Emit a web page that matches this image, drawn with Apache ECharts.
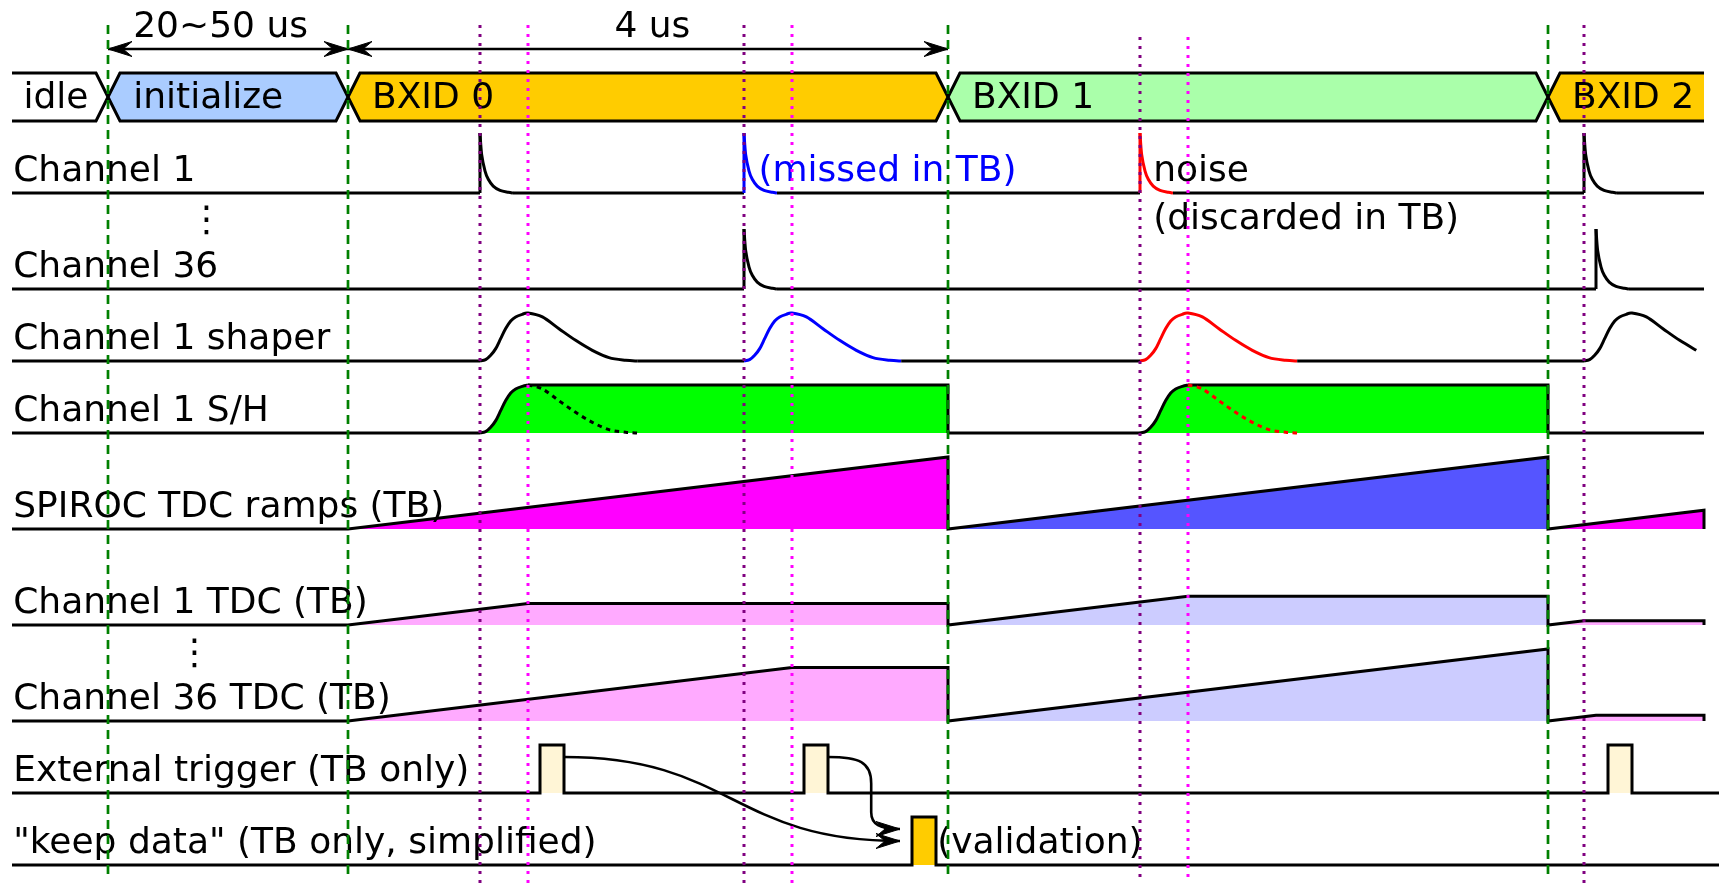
<!DOCTYPE html>
<html>
<head>
<meta charset="utf-8">
<script src="https://cdn.jsdelivr.net/npm/echarts@6/dist/echarts.min.js"></script>
<style>
  html, body { margin: 0; padding: 0; background: #ffffff; }
  #chart { width: 1719px; height: 889px; }
</style>
</head>
<body>
<div id="chart"></div>
<script>
// ---------------------------------------------------------------------------
// Timing data. Time is in diagram units: one BXID = 50 units (4 us).
// Amplitudes are in the same grid units as the vertical axis.
// ---------------------------------------------------------------------------
const busLabels = ['idle', 'initialize', 'BXID 0', 'BXID 1', 'BXID 2'];
const busEdges = [-28, -20, 0, 50, 100, 113];          // start, transitions, end

const ch1Hits = [11, 33, 66, 103];
const ch1HitKinds = ['kept', 'missed', 'noise', 'kept'];
const ch36Hits = [33, 104];
const ch36HitKinds = ['kept', 'kept'];

// detector pulse: [time after hit, amplitude]
const spikeProfile = [[0, 5], [0.14, 3.2], [0.42, 1.83], [0.69, 1.14], [1.1, 0.58],
                      [1.67, 0.22], [2.36, 0.06], [2.75, 0]];
// shaper output: [time after hit, amplitude]
const shaperProfile = [[0, 0], [0.47, 0.11], [0.89, 0.47], [1.31, 1.03], [1.72, 1.86],
                       [2.14, 2.7], [2.56, 3.33], [2.97, 3.67], [3.53, 3.89], [4.0, 4],
                       [5.2, 3.67], [6.58, 2.69], [7.97, 1.72], [9.36, 0.89], [10.75, 0.28],
                       [12.14, 0.06], [13.1, 0]];
const shaperPulses = [11, 33, 66, 103];
const shaperKinds = ['kept', 'missed', 'noise', 'kept'];

// sample & hold: [hit time, release time]
const holdWindows = [[11, 50], [66, 100]];
const holdKinds = ['kept', 'noise'];

// SPIROC TDC ramps: [start, end, level reached at end]
const rampSegments = [[0, 50, 6.0], [50, 100, 6.0], [100, 113, 1.56]];
// per-channel TDC: [stop time, level held]
const tdc1Stops = [[15, 1.8], [70, 2.4], [103, 0.36]];
const tdc36Stops = [[37, 4.45], [100, 6.0], [104, 0.48]];

// external trigger and "keep data" pulses: [rise, fall]
const triggerPulses = [[16, 18], [38, 40], [105, 107]];
const keepPulses = [[47, 49]];
const triggerLinks = [[0, 0], [1, 0]];               // trigger index -> keep pulse index

const bxBoundaries = [-20, 0, 50, 100];
const hitMarkers = [11, 33, 66, 103];
const peakMarkers = [15, 37, 70];

const spanLabels = ['20~50 us', '4 us'];
const rowLabels = ['Channel 1', 'Channel 36', 'Channel 1 shaper', 'Channel 1 S/H',
                   'SPIROC TDC ramps (TB)', 'Channel 1 TDC (TB)', 'Channel 36 TDC (TB)',
                   'External trigger (TB only)', '"keep data" (TB only, simplified)'];
const noteLabels = ['(missed in TB)', 'noise', '(discarded in TB)', '(validation)'];

// ---------------------------------------------------------------------------
// Layout and style
// ---------------------------------------------------------------------------
const ROW = { busTop: 6, busBot: 10, ch1: 16, ch36: 24, shaper: 30, sh: 36, ramp: 44,
              tdc1: 52, tdc36: 60, trig: 66, keep: 72 };
const rowOrder = ['ch1', 'ch36', 'shaper', 'sh', 'ramp', 'tdc1', 'tdc36', 'trig', 'keep'];
const LEFT = -28, ROW_END = 113, RIGHT = 114.25, SLANT = 1, PULSE_H = 4, SHAPER_CUT = 112.4;
const LABEL_X = -27.9;
const busLabelX = [-27.05, -17.9, 2.0, 52.0, 102.0];
const noteAnchors = [[34.2, 15], [67.1, 15], [67.1, 19], [49.1, 71]];
const noteColors = ['#0000ff', '#000000', '#000000', '#000000'];
const spanAnchors = [[-17.9, 3], [22.2, 3]];
const ellipsisAnchors = [[-11.8, 18.4], [-12.8, 54.5]];

const BLACK = '#000000';
const LW = 3;
const FONT = '36px "DejaVu Sans"';
const MID = 9.5;                                      // px from baseline to text middle
const kindColor = { kept: '#000000', missed: '#0000ff', noise: '#ff0000' };
const busFill = [null, '#aaccff', '#ffcc00', '#aaffaa', '#ffcc00'];
const rampFill = ['#ff00ff', '#5555ff'];
const tdcFill = ['#ffaaff', '#ccccff'];

// ---------------------------------------------------------------------------
// Element helpers (all positions go through the cartesian axes via api.coord)
// ---------------------------------------------------------------------------
function polyEl(api, pts, stroke, extra) {
  return { type: 'polyline', shape: { points: pts.map(p => api.coord(p)) },
           style: Object.assign({ stroke: stroke, lineWidth: LW, fill: null, lineJoin: 'miter' }, extra || {}) };
}
function polygonEl(api, pts, fill) {
  return { type: 'polygon', shape: { points: pts.map(p => api.coord(p)) },
           style: { fill: fill, stroke: null } };
}
function curveData(px) {
  let d = 'M' + px[0][0] + ',' + px[0][1];
  for (let i = 0; i < px.length - 1; i++) {
    const p0 = px[Math.max(i - 1, 0)], p1 = px[i], p2 = px[i + 1], p3 = px[Math.min(i + 2, px.length - 1)];
    const c1 = [p1[0] + (p2[0] - p0[0]) / 6, p1[1] + (p2[1] - p0[1]) / 6];
    const c2 = [p2[0] - (p3[0] - p1[0]) / 6, p2[1] - (p3[1] - p1[1]) / 6];
    d += ' C' + c1[0] + ',' + c1[1] + ' ' + c2[0] + ',' + c2[1] + ' ' + p2[0] + ',' + p2[1];
  }
  return d;
}
function curveEl(api, pts, stroke, extra) {
  return { type: 'path', shape: { pathData: curveData(pts.map(p => api.coord(p))) },
           style: Object.assign({ stroke: stroke, lineWidth: LW, fill: 'none' }, extra || {}) };
}
function textEl(api, str, t, yBase, color, align) {
  const c = api.coord([t, yBase]);
  return { type: 'text', x: c[0], y: c[1] - MID,
           style: { text: str, fill: color, font: FONT, align: align || 'left', verticalAlign: 'middle' } };
}
function headEl(tip, dir) {
  const L = 24, W = 7.5, N = 9;
  const nx = -dir[1], ny = dir[0];
  const bx = tip[0] - dir[0] * L, by = tip[1] - dir[1] * L;
  return { type: 'polygon',
           shape: { points: [tip, [bx + nx * W, by + ny * W],
                             [tip[0] - dir[0] * (L - N), tip[1] - dir[1] * (L - N)],
                             [bx - nx * W, by - ny * W]] },
           style: { fill: BLACK, stroke: BLACK, lineWidth: 1 } };
}

// bus state shape, returns fill polygon and stroke path
function busShape(i) {
  const a = busEdges[i], b = busEdges[i + 1];
  const T = ROW.busTop, B = ROW.busBot, M = (T + B) / 2;
  const first = i === 0, last = i === busLabels.length - 1;
  if (first) {
    const pts = [[a, T], [b - SLANT, T], [b, M], [b - SLANT, B], [a, B]];
    return { fill: pts, stroke: pts };
  }
  if (last) {
    return { fill: [[a, M], [a + SLANT, T], [b, T], [b, B], [a + SLANT, B]],
             stroke: [[b, T], [a + SLANT, T], [a, M], [a + SLANT, B], [b, B]] };
  }
  const pts = [[a, M], [a + SLANT, T], [b - SLANT, T], [b, M], [b - SLANT, B], [a + SLANT, B]];
  return { fill: pts, stroke: pts.concat([pts[0], pts[1]]) };
}

const shaperPeak = shaperProfile.reduce((m, p, i) => p[1] > shaperProfile[m][1] ? i : m, 0);

// ---------------------------------------------------------------------------
// Layers
// ---------------------------------------------------------------------------
function fillLayer(api) {
  const els = [];
  busLabels.forEach((_, i) => { if (busFill[i]) els.push(polygonEl(api, busShape(i).fill, busFill[i])); });

  // sample & hold plateaus
  holdWindows.forEach(([t0, t1]) => {
    const base = ROW.sh, top = base - shaperProfile[shaperPeak][1];
    const rise = shaperProfile.slice(0, shaperPeak + 1).map(([dt, a]) => api.coord([t0 + dt, base - a]));
    const e1 = api.coord([t1, top]), e2 = api.coord([t1, base]);
    els.push({ type: 'path', shape: { pathData: curveData(rise) + ' L' + e1[0] + ',' + e1[1] + ' L' + e2[0] + ',' + e2[1] + ' Z' },
               style: { fill: '#00ff00', stroke: null } });
  });

  // SPIROC ramps
  rampSegments.forEach(([s, e, h], i) => {
    els.push(polygonEl(api, [[s, ROW.ramp], [e, ROW.ramp - h], [e, ROW.ramp]], rampFill[i % 2]));
  });

  // channel TDCs
  [[tdc1Stops, ROW.tdc1], [tdc36Stops, ROW.tdc36]].forEach(([stops, base]) => {
    stops.forEach(([ts, lvl], i) => {
      const s = rampSegments[i][0], e = rampSegments[i][1];
      els.push(polygonEl(api, [[s, base], [ts, base - lvl], [e, base - lvl], [e, base]], tdcFill[i % 2]));
    });
  });

  // trigger / keep pulses
  triggerPulses.forEach(([a, b]) => els.push(polygonEl(api, [[a, ROW.trig], [a, ROW.trig - PULSE_H], [b, ROW.trig - PULSE_H], [b, ROW.trig]], '#fff5d6')));
  keepPulses.forEach(([a, b]) => els.push(polygonEl(api, [[a, ROW.keep], [a, ROW.keep - PULSE_H], [b, ROW.keep - PULSE_H], [b, ROW.keep]], '#ffcc00')));
  return els;
}

function spikeRow(api, hits, kinds, base) {
  const els = [];
  const decayLen = spikeProfile[spikeProfile.length - 1][0];
  let cursor = LEFT;
  hits.forEach((h, i) => {
    const col = kindColor[kinds[i]];
    const pts = spikeProfile.map(([dt, a]) => [h + dt, base - a]);
    els.push(polyEl(api, [[cursor, base], [h, base]], BLACK));
    els.push(polyEl(api, [[h, base], pts[0]], col));
    els.push(curveEl(api, pts, col));
    cursor = h + decayLen;
  });
  els.push(polyEl(api, [[cursor, base], [ROW_END, base]], BLACK));
  return els;
}

function lineLayer(api) {
  const els = [];
  // bus outlines
  busLabels.forEach((_, i) => els.push(polyEl(api, busShape(i).stroke, BLACK)));

  els.push(...spikeRow(api, ch1Hits, ch1HitKinds, ROW.ch1));
  els.push(...spikeRow(api, ch36Hits, ch36HitKinds, ROW.ch36));

  // shaper
  {
    const base = ROW.shaper, len = shaperProfile[shaperProfile.length - 1][0];
    let cursor = LEFT;
    shaperPulses.forEach((h, i) => {
      els.push(polyEl(api, [[cursor, base], [h, base]], BLACK));
      const pts = shaperProfile.map(([dt, a]) => [h + dt, base - a]).filter(p => p[0] <= SHAPER_CUT);
      els.push(curveEl(api, pts, kindColor[shaperKinds[i]]));
      cursor = h + len;
    });
    if (cursor < ROW_END) els.push(polyEl(api, [[cursor, base], [ROW_END, base]], BLACK));
  }

  // sample & hold
  {
    const base = ROW.sh, top = base - shaperProfile[shaperPeak][1];
    let cursor = LEFT;
    holdWindows.forEach(([t0, t1], i) => {
      els.push(polyEl(api, [[cursor, base], [t0, base]], BLACK));
      const rise = shaperProfile.slice(0, shaperPeak + 1).map(([dt, a]) => [t0 + dt, base - a]);
      els.push(curveEl(api, rise, BLACK));
      els.push(polyEl(api, [rise[rise.length - 1], [t1, top], [t1, base]], BLACK));
      const fall = shaperProfile.slice(shaperPeak).map(([dt, a]) => [t0 + dt, base - a]);
      els.push(curveEl(api, fall, kindColor[holdKinds[i]], { lineDash: [4.5, 4.5] }));
      cursor = t1;
    });
    els.push(polyEl(api, [[cursor, base], [ROW_END, base]], BLACK));
  }

  // SPIROC ramps
  {
    const pts = [[LEFT, ROW.ramp]];
    rampSegments.forEach(([s, e, h]) => pts.push([s, ROW.ramp], [e, ROW.ramp - h], [e, ROW.ramp]));
    els.push(polyEl(api, pts, BLACK));
  }

  // channel TDCs
  [[tdc1Stops, ROW.tdc1], [tdc36Stops, ROW.tdc36]].forEach(([stops, base]) => {
    const pts = [[LEFT, base]];
    stops.forEach(([ts, lvl], i) => {
      const s = rampSegments[i][0], e = rampSegments[i][1];
      pts.push([s, base], [ts, base - lvl], [e, base - lvl], [e, base]);
    });
    els.push(polyEl(api, pts, BLACK));
  });

  // pulse trains
  [[triggerPulses, ROW.trig], [keepPulses, ROW.keep]].forEach(([pulses, base]) => {
    const pts = [[LEFT, base]];
    pulses.forEach(([a, b]) => pts.push([a, base], [a, base - PULSE_H], [b, base - PULSE_H], [b, base]));
    pts.push([RIGHT, base]);
    els.push(polyEl(api, pts, BLACK));
  });

  // trigger -> keep data links
  triggerLinks.forEach(([ti, ki], n) => {
    const s = [triggerPulses[ti][1], ROW.trig - PULSE_H + 1];
    const tipT = keepPulses[ki][0] - 1;
    let d, tip;
    if (n === 0) {
      const e = [tipT, ROW.keep - 2];
      const mx = (s[0] + e[0]) / 2;
      const p = [s, [mx, s[1]], [mx, e[1]], e].map(q => api.coord(q));
      d = 'M' + p[0] + ' C' + p[1] + ' ' + p[2] + ' ' + p[3];
      tip = p[3];
    } else {
      const e = [tipT, ROW.keep - 3];
      const cx = s[0] + 3.6;
      const p = [s, [s[0] + 2.6, s[1]], [cx, s[1] + 0.4], [cx, s[1] + 2.2],
                 [cx, e[1] - 1.4], [cx, e[1] - 0.4], [cx + 0.7, e[1]], e].map(q => api.coord(q));
      d = 'M' + p[0] + ' C' + p[1] + ' ' + p[2] + ' ' + p[3] + ' L' + p[4] + ' C' + p[5] + ' ' + p[6] + ' ' + p[7];
      tip = p[7];
    }
    els.push({ type: 'path', shape: { pathData: d }, style: { stroke: BLACK, lineWidth: 2.6, fill: 'none' } });
    els.push(headEl(tip, [1, 0]));
  });

  // duration arrows
  [[bxBoundaries[0], bxBoundaries[1]], [bxBoundaries[1], bxBoundaries[2]]].forEach(([a, b]) => {
    const pa = api.coord([a, 4]), pb = api.coord([b, 4]);
    els.push({ type: 'line', shape: { x1: pa[0], y1: pa[1], x2: pb[0], y2: pb[1] }, style: { stroke: BLACK, lineWidth: 2.7 } });
    els.push(headEl(pa, [-1, 0]), headEl(pb, [1, 0]));
  });
  return els;
}

function textLayer(api) {
  const els = [];
  rowLabels.forEach((s, i) => els.push(textEl(api, s, LABEL_X, ROW[rowOrder[i]] - 1, BLACK)));
  busLabels.forEach((s, i) => els.push(textEl(api, s, busLabelX[i], 8.92, BLACK)));
  noteLabels.forEach((s, i) => els.push(textEl(api, s, noteAnchors[i][0], noteAnchors[i][1], noteColors[i])));
  spanLabels.forEach((s, i) => els.push(textEl(api, s, spanAnchors[i][0], spanAnchors[i][1], BLACK)));
  ellipsisAnchors.forEach(([t, y]) => {
    const c = api.coord([t, y]);
    els.push({ type: 'text', x: c[0], y: c[1], style: { text: '\u22ee', fill: BLACK, font: FONT, align: 'center', verticalAlign: 'middle' } });
  });
  return els;
}

function refLayer(api) {
  const els = [];
  const vline = (t, y0, y1, color, dash, w) => {
    const a = api.coord([t, y0]), b = api.coord([t, y1]);
    els.push({ type: 'line', shape: { x1: a[0], y1: a[1], x2: b[0], y2: b[1] },
               style: { stroke: color, lineWidth: w, lineDash: dash } });
  };
  bxBoundaries.forEach(t => vline(t, 2, 73.25, '#008000', [9, 6], 2.7));
  hitMarkers.forEach((t, i) => vline(t, i === 2 ? 3 : 2, 73.5, '#800080', [3, 6], 3));
  peakMarkers.forEach((t, i) => vline(t, i === 2 ? 3 : 2, 73.5, '#ff00ff', [3, 6], 3));
  return els;
}

function layer(name, build) {
  return {
    type: 'custom', name: name, coordinateSystem: 'cartesian2d', clip: false, silent: true,
    animation: false, data: [[0, 0]],
    renderItem: (params, api) => ({ type: 'group', children: build(api) })
  };
}

const chart = echarts.init(document.getElementById('chart'), null, { renderer: 'canvas' });
chart.setOption({
  backgroundColor: '#ffffff',
  animation: false,
  grid: { left: 0, right: 0, top: 1, bottom: 0, containLabel: false },
  xAxis: { type: 'value', min: -29, max: 114.25, show: false },
  yAxis: { type: 'value', min: 0, max: 74, inverse: true, show: false },
  series: [
    layer('fills', fillLayer),
    layer('signals', lineLayer),
    layer('labels', textLayer),
    layer('markers', refLayer)
  ]
});
</script>
</body>
</html>
